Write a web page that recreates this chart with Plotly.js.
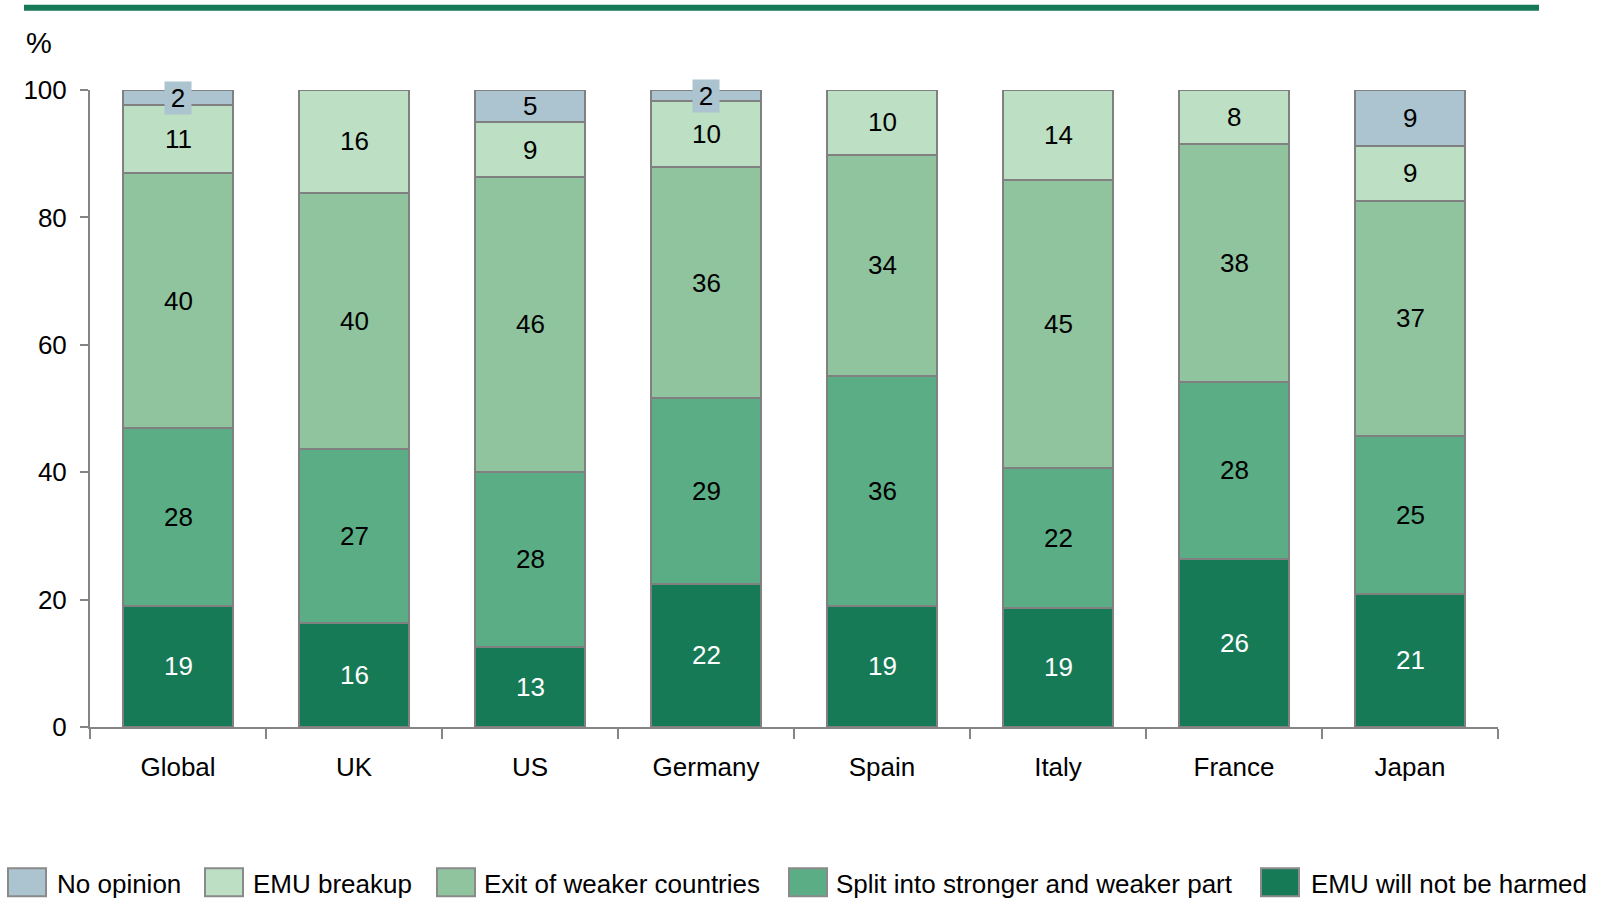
<!DOCTYPE html>
<html>
<head>
<meta charset="utf-8">
<script src="https://cdn.plot.ly/plotly-3.0.1.min.js"></script>
<style>html,body{margin:0;padding:0;background:#fff;}#chart{width:1604px;height:901px;}</style>
</head>
<body>
<div id="chart"></div>
<script>
// Categories
const categories = ["Global", "UK", "US", "Germany", "Spain", "Italy", "France", "Japan"];

// Segment heights (% of respondents), bottom to top
const notHarmed   = [19.0, 16.3, 12.6, 22.5, 19.0, 18.7, 26.4, 20.9];
const splitParts  = [28.0, 27.3, 27.5, 29.1, 36.1, 22.0, 27.8, 24.8];
const exitWeaker  = [39.9, 40.3, 46.2, 36.3, 34.7, 45.2, 37.3, 36.9];
const emuBreakup  = [10.7, 16.1,  8.7, 10.3, 10.2, 14.1,  8.5,  8.6];
const noOpinion   = [ 2.4,  0.0,  5.0,  1.8,  0.0,  0.0,  0.0,  8.8];

// Printed labels
const notHarmedLbl  = ["19", "16", "13", "22", "19", "19", "26", "21"];
const splitLbl      = ["28", "27", "28", "29", "36", "22", "28", "25"];
const exitLbl       = ["40", "40", "46", "36", "34", "45", "38", "37"];
const breakupLbl    = ["11", "16", "9", "10", "10", "14", "8", "9"];
const noOpinionLbl  = ["2", "", "5", "2", "", "", "", "9"];

const seriesNames = ["No opinion", "EMU breakup", "Exit of weaker countries", "Split into stronger and weaker part", "EMU will not be harmed"];
const seriesColors = ["#abc4cf", "#bddfc3", "#8fc49f", "#5aad84", "#177a56"];

// layout geometry
const W = 1604, H = 901;
const M = {l: 90, r: 106, t: 89.5, b: 173.5};
const PW = W - M.l - M.r, PH = H - M.t - M.b;
const px = x => (x - M.l) / PW;
const py = y => (H - M.b - y) / PH;

const FONT = "Liberation Sans, Arial, sans-serif";
const lineCol = "#858585";

function barTrace(name, vals, color) {
  return {
    type: "bar", name: name, x: categories, y: vals,
    marker: {color: color, line: {color: "#808080", width: 2}},
    hoverinfo: "x+y+name"
  };
}

const data = [
  barTrace(seriesNames[4], notHarmed, seriesColors[4]),
  barTrace(seriesNames[3], splitParts, seriesColors[3]),
  barTrace(seriesNames[2], exitWeaker, seriesColors[2]),
  barTrace(seriesNames[1], emuBreakup, seriesColors[1]),
  barTrace(seriesNames[0], noOpinion, seriesColors[0])
];

// segment labels, placed at the middle of each stacked segment
const stack = [
  {vals: notHarmed, lbl: notHarmedLbl, color: "#ffffff"},
  {vals: splitParts, lbl: splitLbl, color: "#000000"},
  {vals: exitWeaker, lbl: exitLbl, color: "#000000"},
  {vals: emuBreakup, lbl: breakupLbl, color: "#000000"},
  {vals: noOpinion, lbl: noOpinionLbl, color: "#000000", boxed: true}
];
const annotations = [];
categories.forEach((c, i) => {
  let base = 0;
  stack.forEach(s => {
    const v = s.vals[i];
    if (s.lbl[i] !== "") {
      const a = {
        x: c, y: base + v / 2, xref: "x", yref: "y",
        text: s.lbl[i], showarrow: false, xanchor: "center", yanchor: "middle",
        font: {family: FONT, size: 26, color: s.color}
      };
      if (s.boxed && v < 3) {
        a.bgcolor = seriesColors[0]; a.borderpad = 3; a.width = 20; a.height = 26;
      }
      annotations.push(a);
    }
    base += v;
  });
});

annotations.push({
  xref: "paper", yref: "paper", x: px(24), y: py(42), xanchor: "left", yanchor: "middle",
  text: "%", showarrow: false, font: {family: FONT, size: 29, color: "#000"}
});

// custom legend
const shapes = [{
  type: "line", xref: "paper", yref: "paper",
  x0: px(24), x1: px(1539), y0: py(7), y1: py(7),
  line: {color: "#177a56", width: 6}
}];
const legendSwatchX = [8, 205, 437, 789, 1261];
const legendTextX = [58, 254, 485, 837, 1312];
seriesNames.forEach((n, k) => {
  shapes.push({
    type: "rect", xref: "paper", yref: "paper",
    x0: px(legendSwatchX[k]), x1: px(legendSwatchX[k] + 38),
    y0: py(897), y1: py(869),
    fillcolor: seriesColors[k], line: {color: "#8a8a8a", width: 2}
  });
  annotations.push({
    xref: "paper", yref: "paper", x: px(legendTextX[k] - 3), y: py(885),
    xanchor: "left", yanchor: "middle", text: n, showarrow: false,
    font: {family: FONT, size: 26, color: "#000"}
  });
});

const layout = {
  width: W, height: H,
  margin: M,
  paper_bgcolor: "#ffffff", plot_bgcolor: "#ffffff",
  barmode: "stack", bargap: 0.375,
  showlegend: false,
  font: {family: FONT, size: 26, color: "#000"},
  xaxis: {
    type: "category", tickson: "boundaries", ticks: "outside", ticklen: 10,
    tickwidth: 2, tickcolor: lineCol, showline: true, linecolor: lineCol, linewidth: 2,
    showgrid: false, zeroline: false, ticklabelstandoff: 16,
    tickfont: {family: FONT, size: 26, color: "#000"}
  },
  yaxis: {
    range: [0, 100], tickvals: [0, 20, 40, 60, 80, 100], ticks: "outside", ticklen: 8,
    tickwidth: 2, tickcolor: lineCol, showline: true, linecolor: lineCol, linewidth: 2,
    showgrid: false, zeroline: false, ticklabelstandoff: 8,
    tickfont: {family: FONT, size: 26, color: "#000"}
  },
  shapes: shapes,
  annotations: annotations
};

Plotly.newPlot("chart", data, layout, {displayModeBar: false, staticPlot: true});
</script>
</body>
</html>
